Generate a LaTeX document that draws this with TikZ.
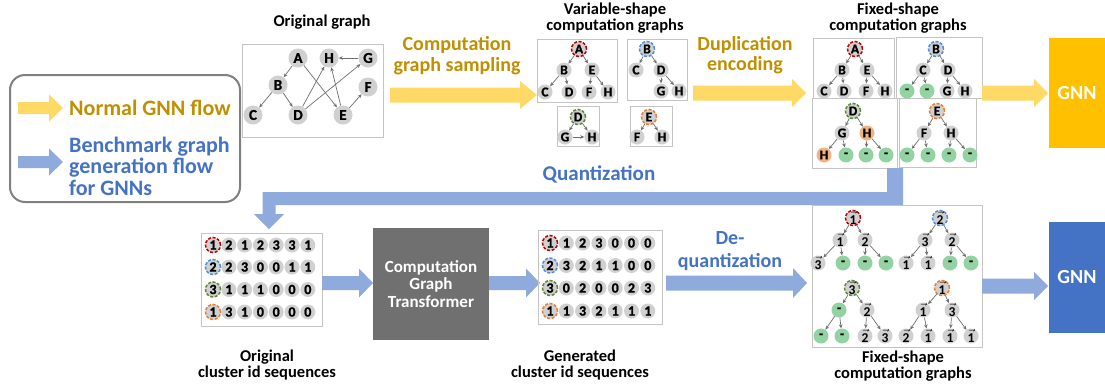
\documentclass[tikz,border=0pt]{standalone}
\usepackage{fontspec}
\setmainfont{Carlito}
\newfontfamily\heavy{Carlito}[BoldFeatures={FakeBold=1.2}]
\usetikzlibrary{arrows.meta}
\definecolor{dyel}{HTML}{BF9000}
\definecolor{lyel}{HTML}{FFD966}
\definecolor{gyel}{HTML}{FFC000}
\definecolor{tblue}{HTML}{4472C4}
\definecolor{lblue}{HTML}{8FAADC}
\definecolor{ngray}{HTML}{D0D0D0}
\definecolor{ngreen}{HTML}{93D3A2}
\definecolor{norange}{HTML}{F4B183}
\definecolor{egray}{HTML}{6E6E6E}
\definecolor{bgray}{HTML}{C4C4C4}
\definecolor{tgray}{HTML}{707070}
\definecolor{lgray}{HTML}{808080}
\definecolor{rred}{HTML}{C00000}
\definecolor{rblue}{HTML}{4F8FD8}
\definecolor{rgreen}{HTML}{5B8A32}
\definecolor{rorange}{HTML}{ED7D31}
\newcommand\fsz[1]{\fontsize{#1pt}{#1pt}\selectfont}
\newcommand\fszb[2]{\fontsize{#1pt}{#2pt}\selectfont}
\newcommand\vv[1]{$\vec{\mathbf{#1}}$}
% block arrow: style, x start, x tip, y, half shaft, half head, head length
\newcommand\barrow[7]{\fill[#1] (#2,{#4-#5}) -- ({#3-#7},{#4-#5}) -- ({#3-#7},{#4-#6}) -- (#3,#4) -- ({#3-#7},{#4+#6}) -- ({#3-#7},{#4+#5}) -- (#2,{#4+#5}) -- cycle;}
\begin{document}
\begin{tikzpicture}[x=1pt,y=-1pt,
  gn/.style={circle,fill=ngray,minimum size=19pt,inner sep=0pt,font=\heavy\fsz{15}\bfseries},
  sn/.style={circle,fill=ngray,minimum size=15pt,inner sep=0pt,font=\heavy\fsz{13.5}\bfseries},
  qn/.style={circle,fill=ngray,minimum size=15pt,inner sep=0pt,font=\heavy\fsz{14}\bfseries},
  gr/.style={fill=ngreen},
  orn/.style={fill=norange},
  rt/.style={draw=#1,dash pattern=on 3pt off 1.6pt,line width=1.5pt},
  ed/.style={draw=egray,line width=0.7pt,-{Stealth[length=4pt,width=3.5pt]}},
  frame/.style={draw=bgray,line width=0.8pt,inner sep=0pt},
  ttl/.style={font=\fszb{16.5}{16}\bfseries,align=center},
  ylab/.style={font=\fszb{20}{21}\bfseries,align=center,text=dyel},
  blab/.style={font=\fszb{20}{23}\bfseries,align=center,text=tblue},
  gnn/.style={minimum width=56pt,inner sep=0pt,font=\fsz{20}\bfseries,text=white}
]
\useasboundingbox (0,0) rectangle (1105,389);
\fill[white] (0,0) rectangle (1105,389);

% ---------- legend ----------
\node[draw=lgray,line width=2pt,rounded corners=15pt,minimum width=230pt,minimum height=127pt] (legend) at (125,138.5) {};
\barrow{lyel}{18}{63}{108}{6}{13.5}{14}
\barrow{lblue}{18}{63}{162}{6}{13.5}{14}
\node[anchor=west,font=\fsz{22}\bfseries,text=dyel,inner sep=0pt] (lnorm) at (69,108) {Normal GNN flow};
\node[anchor=west,font=\fszb{22}{21.5}\bfseries,text=tblue,align=left,inner sep=0pt] (lbench) at (69,166) {Benchmark graph\\generation flow\\for GNNs};

% ---------- original graph ----------
\node[ttl] (togr) at (322,22) {Original graph};
\node[frame,minimum width=141pt,minimum height=93pt] (og) at (312.5,90.5) {};
\node[gn] (oA) at (298,58) {A};
\node[gn] (oH) at (329,58) {H};
\node[gn] (oG) at (368,58) {G};
\node[gn] (oB) at (278,85) {B};
\node[gn] (oF) at (368,87) {F};
\node[gn] (oC) at (253,115) {C};
\node[gn] (oD) at (298,115) {D};
\node[gn] (oE) at (343,115) {E};
\foreach \p/\c in {oA/oB,oB/oC,oB/oD,oA/oE,oD/oH,oD/oG,oE/oH,oE/oF,oG/oH}
  \draw[ed] (\p) -- (\c);

% ---------- sampling arrow ----------
\barrow{lyel}{390}{537}{95}{7.5}{14}{17}
\node[ylab] (lsamp) at (457,56) {Computation\\graph sampling};

% ---------- variable-shape ----------
\node[ttl] (tvar) at (615,18) {Variable-shape\\computation graphs};
\node[frame,minimum width=80pt,minimum height=63pt] (vbA) at (577,70.5) {};
\node[frame,minimum width=60pt,minimum height=61pt] (vbB) at (657,69.5) {};
\node[frame,minimum width=42pt,minimum height=40pt] (vbD) at (578,126) {};
\node[frame,minimum width=42pt,minimum height=40pt] (vbE) at (651,126) {};
\node[sn,rt=rred] (vAr) at (579,49) {A};
\node[sn] (vAa) at (564,70) {B};
\node[sn] (vAb) at (592,70) {E};
\node[sn] (vA1) at (545,92) {C};
\node[sn] (vA2) at (569,92) {D};
\node[sn] (vA3) at (589,92) {F};
\node[sn] (vA4) at (608,92) {H};
\node[sn,rt=rblue] (vBr) at (647,49) {B};
\node[sn] (vBa) at (636,70) {C};
\node[sn] (vBb) at (661,70) {D};
\node[sn] (vB3) at (661,91) {G};
\node[sn] (vB4) at (679,91) {H};
\node[sn,rt=rgreen] (vDr) at (578,117) {D};
\node[sn] (vDa) at (565,137) {G};
\node[sn] (vDb) at (592,137) {H};
\node[sn,rt=rorange] (vEr) at (649,117) {E};
\node[sn] (vEa) at (637,137) {F};
\node[sn] (vEb) at (662,137) {H};
\foreach \p/\c in {vAr/vAa,vAr/vAb,vAa/vA1,vAa/vA2,vAb/vA3,vAb/vA4,vBr/vBa,vBr/vBb,vBb/vB3,vBb/vB4,vDr/vDa,vDr/vDb,vDa/vDb,vEr/vEa,vEr/vEb}
  \draw[ed] (\p) -- (\c);

% ---------- duplication arrow ----------
\barrow{lyel}{693}{806}{93}{7.5}{14}{14}
\node[ylab,font=\fszb{20}{20}\bfseries] (ldup) at (745,55) {Duplication\\encoding};

% ---------- fixed-shape top ----------
\node[ttl] (tfix) at (898,18) {Fixed-shape\\computation graphs};
\node[frame,minimum width=81pt,minimum height=60pt] (fbA) at (853.5,68) {};
\node[frame,minimum width=86pt,minimum height=61pt] (fbB) at (939,67.5) {};
\node[frame,minimum width=85pt,minimum height=70pt] (fbD) at (854.5,133) {};
\node[frame,minimum width=77pt,minimum height=69pt] (fbE) at (937.5,132.5) {};
\node[sn,rt=rred] (fAr) at (855,49) {A};
\node[sn] (fAa) at (842,70) {B};
\node[sn] (fAb) at (867,70) {E};
\node[sn] (fA1) at (824,91) {C};
\node[sn] (fA2) at (844,91) {D};
\node[sn] (fA3) at (866,91) {F};
\node[sn] (fA4) at (885,91) {H};
\node[sn,rt=rblue] (fBr) at (936,49) {B};
\node[sn] (fBa) at (923,70) {C};
\node[sn] (fBb) at (948,70) {D};
\node[sn,gr] (fB1) at (907,91) {-};
\node[sn,gr] (fB2) at (927,91) {-};
\node[sn] (fB3) at (947,91) {G};
\node[sn] (fB4) at (965,91) {H};
\node[sn,rt=rgreen] (fDr) at (853,111) {D};
\node[sn] (fDa) at (842,133) {G};
\node[sn,orn] (fDb) at (867,133) {H};
\node[sn,orn] (fD1) at (824,155) {H};
\node[sn,gr] (fD2) at (846,155) {-};
\node[sn,gr] (fD3) at (866,155) {-};
\node[sn,gr] (fD4) at (886,155) {-};
\node[sn,rt=rorange] (fEr) at (937,111) {E};
\node[sn] (fEa) at (924,133) {F};
\node[sn] (fEb) at (951,133) {H};
\node[sn,gr] (fE1) at (907,155) {-};
\node[sn,gr] (fE2) at (928,155) {-};
\node[sn,gr] (fE3) at (949,155) {-};
\node[sn,gr] (fE4) at (970,155) {-};
\foreach \t in {A,B,D,E}
  \foreach \p/\c in {r/a,r/b,a/1,a/2,b/3,b/4}
    \draw[ed] (f\t\p) -- (f\t\c);

% ---------- GNN (top) ----------
\barrow{lyel}{982}{1048}{93}{7.5}{14}{14}
\node[gnn,fill=gyel,minimum height=110pt] (gnn1) at (1077,93) {GNN};

% ---------- quantization ----------
\fill[lblue] (887,168) -- (903,168) -- (903,205) -- (275.5,205) -- (275.5,214) -- (284,214) -- (269,229) -- (254,214) -- (262.5,214) -- (262.5,192) -- (887,192) -- cycle;
\node[blab,font=\fsz{21}\bfseries] (lquant) at (599,174) {Quantization};

% ---------- original sequences ----------
\node[frame,minimum width=121pt,minimum height=93pt] (sbo) at (261.5,279.5) {};
\foreach \r/\y/\col/\ds in {1/245/rred/{1,2,1,2,3,3,1},2/267/rblue/{2,2,3,0,0,1,1},3/289.5/rgreen/{3,1,1,1,0,0,0},4/312/rorange/{1,3,1,0,0,0,0}}{
  \foreach \d [count=\c] in \ds
    \node[qn] (o\r\c) at ({213+15.8*(\c-1)},\y) {\d};
  \node[circle,minimum size=15pt,rt=\col] at (o\r1) {};
}
\node[ttl] (tos) at (267,365.5) {Original\\cluster id sequences};

% ---------- transformer ----------
\barrow{lblue}{322}{373}{283}{7}{14.5}{14}
\node[fill=tgray,minimum width=116pt,minimum height=112pt,font=\fszb{17}{17.5}\bfseries,text=white,align=center] (ctr) at (431,284) {Computation\\Graph\\Transformer};
\barrow{lblue}{489}{540}{283}{7}{14.5}{14}

% ---------- generated sequences ----------
\node[frame,minimum width=124pt,minimum height=94pt] (sbg) at (600,277) {};
\foreach \r/\y/\col/\ds in {1/243/rred/{1,1,2,3,0,0,0},2/265.5/rblue/{2,3,2,1,1,0,0},3/288/rgreen/{3,0,2,0,0,2,3},4/311/rorange/{1,1,3,2,1,1,1}}{
  \foreach \d [count=\c] in \ds
    \node[qn] (g\r\c) at ({550+16.3*(\c-1)},\y) {\d};
  \node[circle,minimum size=15pt,rt=\col] at (g\r1) {};
}
\node[ttl] (tgs) at (580,365) {Generated\\cluster id sequences};

% ---------- de-quantization ----------
\barrow{lblue}{666}{807}{283}{7.5}{15}{14}
\node[blab] (ldeq) at (730,251.5) {De-\\quantization};

% ---------- fixed-shape bottom ----------
\node[frame,minimum width=170pt,minimum height=142pt] (fbb) at (897,276) {};
\begin{scope}[every node/.append style={font=\fsz{12}}]
\node[sn,rt=rred] (t1r) at (853,218) {\vv1};
\node[sn] (t1a) at (840,240) {\vv1};
\node[sn] (t1b) at (865,240) {\vv2};
\node[sn] (t11) at (818,263) {\vv3};
\node[sn,gr] (t12) at (843,263) {\heavy\bfseries -};
\node[sn,gr] (t13) at (865,263) {\heavy\bfseries -};
\node[sn,gr] (t14) at (886,263) {\heavy\bfseries -};
\node[sn,rt=rblue] (t2r) at (940,218) {\vv2};
\node[sn] (t2a) at (925,240) {\vv3};
\node[sn] (t2b) at (952,240) {\vv2};
\node[sn] (t21) at (906,263) {\vv1};
\node[sn] (t22) at (928,263) {\vv1};
\node[sn,gr] (t23) at (950,263) {\heavy\bfseries -};
\node[sn,gr] (t24) at (971,263) {\heavy\bfseries -};
\node[sn,rt=rgreen] (t3r) at (852,288) {\vv3};
\node[sn,gr] (t3a) at (839,310) {\heavy\bfseries -};
\node[sn] (t3b) at (867,310) {\vv2};
\node[sn,gr] (t31) at (821,336) {\heavy\bfseries -};
\node[sn,gr] (t32) at (842,336) {\heavy\bfseries -};
\node[sn] (t33) at (865,336) {\vv2};
\node[sn] (t34) at (885,336) {\vv3};
\node[sn,rt=rorange] (t4r) at (942,288) {\vv1};
\node[sn] (t4a) at (923,310) {\vv1};
\node[sn] (t4b) at (952,310) {\vv3};
\node[sn] (t41) at (906,336) {\vv2};
\node[sn] (t42) at (928,336) {\vv1};
\node[sn] (t43) at (950,336) {\vv1};
\node[sn] (t44) at (971,336) {\vv1};
\end{scope}
\foreach \t in {1,2,3,4}
  \foreach \p/\c in {r/a,r/b,a/1,a/2,b/3,b/4}
    \draw[ed] (t\t\p) -- (t\t\c);
\node[ttl] (tfb) at (903,366) {Fixed-shape\\computation graphs};

% ---------- GNN (bottom) ----------
\barrow{lblue}{982}{1048}{286}{7.5}{14}{14}
\node[gnn,fill=tblue,minimum height=111pt] (gnn2) at (1077,277.5) {GNN};
\end{tikzpicture}
\end{document}
